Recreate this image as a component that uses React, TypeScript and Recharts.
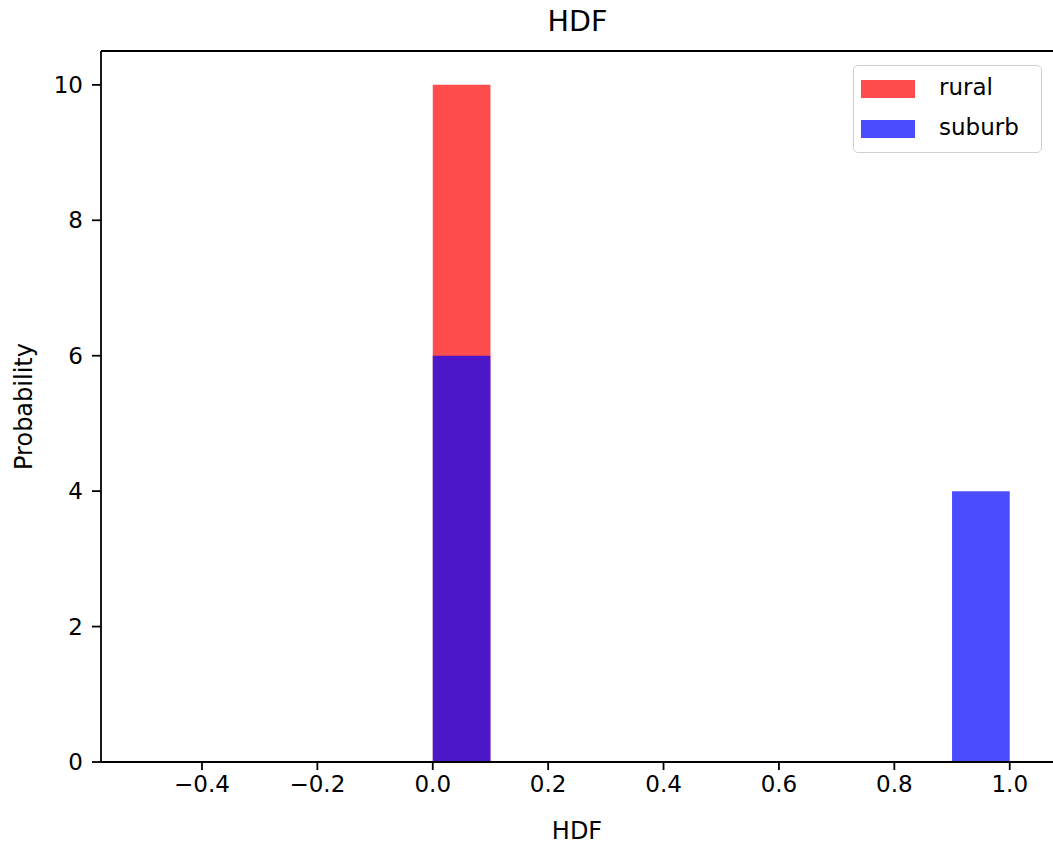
import React from 'react';
import { ComposedChart, Area, XAxis, YAxis, ReferenceLine, Label } from 'recharts';

const binEdges = [0, 0.1, 0.9, 1.0];
const ruralCounts = [10, 0, null, null];
const suburbCounts = [6, 0, 4, 0];
const xTicks = [-0.4, -0.2, 0, 0.2, 0.4, 0.6, 0.8, 1.0];
const yTicks = [0, 2, 4, 6, 8, 10];
const seriesNames = ['rural', 'suburb'];
const seriesColors = ['#ff0000', '#0000ff'];

const data = binEdges.map((x, i) => ({ x, rural: ruralCounts[i], suburb: suburbCounts[i] }));

const FONT = 'DejaVu Sans, sans-serif';
const fmt = (v: number) => (v < 0 ? '\u2212' + Math.abs(v).toFixed(1) : v.toFixed(1));

const LegendBox = () => (
  <div
    style={{
      position: 'absolute',
      left: 853,
      top: 65,
      width: 189,
      height: 88,
      boxSizing: 'border-box',
      border: '1.5px solid #d0d0d0',
      borderRadius: 5,
      background: 'rgba(255,255,255,0.8)',
      fontFamily: FONT,
      fontSize: 23,
      color: '#000',
      padding: '3px 0 0 7px',
    }}
  >
    {seriesNames.map((n, i) => (
      <div key={n} style={{ display: 'flex', alignItems: 'center', height: 40 }}>
        <div style={{ width: 54, height: 18, background: seriesColors[i], opacity: 0.7, marginRight: 24 }} />
        <span style={{ lineHeight: '23px', marginTop: -4 }}>{n}</span>
      </div>
    ))}
  </div>
);

export default function App() {
  return (
    <div style={{ position: 'absolute', left: 0, top: 0, width: 1053, height: 849, background: '#fff', overflow: 'hidden' }}>
      <div style={{ position: 'absolute', left: 0, top: 5, width: 1155, textAlign: 'center', fontFamily: FONT, fontSize: 28.5, color: '#000' }}>
        HDF
      </div>
      <ComposedChart
        width={1053}
        height={849}
        data={data}
        margin={{ top: 51, right: 0, bottom: 0, left: 41 }}
        style={{ fontFamily: FONT }}
      >
        <XAxis
          dataKey="x"
          type="number"
          domain={[-0.575, 1.075]}
          ticks={xTicks}
          tickFormatter={fmt}
          allowDataOverflow
          height={87}
          tickSize={8}
          tickMargin={6}
          tick={{ fill: '#000', fontSize: 23 }}
          axisLine={{ stroke: '#000', strokeWidth: 1.8 }}
          tickLine={{ stroke: '#000', strokeWidth: 1.8 }}
        >
          <Label value="HDF" position="insideBottom" offset={10} fill="#000" fontSize={24} />
        </XAxis>
        <YAxis
          type="number"
          domain={[0, 10.5]}
          ticks={yTicks}
          allowDataOverflow
          width={60}
          tickSize={9}
          tickMargin={9}
          tick={{ fill: '#000', fontSize: 23 }}
          axisLine={{ stroke: '#000', strokeWidth: 1.8 }}
          tickLine={{ stroke: '#000', strokeWidth: 1.8 }}
        >
          <Label value="Probability" angle={-90} position="insideLeft" offset={-18} fill="#000" fontSize={24} style={{ textAnchor: 'middle' }} />
        </YAxis>
        <Area
          dataKey="rural"
          name="rural"
          type="stepAfter"
          fill={seriesColors[0]}
          fillOpacity={0.7}
          stroke="none"
          baseValue={0}
          isAnimationActive={false}
          connectNulls={false}
          dot={false}
          activeDot={false}
        />
        <Area
          dataKey="suburb"
          name="suburb"
          type="stepAfter"
          fill={seriesColors[1]}
          fillOpacity={0.7}
          stroke="none"
          baseValue={0}
          isAnimationActive={false}
          dot={false}
          activeDot={false}
        />
        <ReferenceLine y={10.5} stroke="#000" strokeWidth={1.8} ifOverflow="visible" />
      </ComposedChart>
      <LegendBox />
    </div>
  );
}
